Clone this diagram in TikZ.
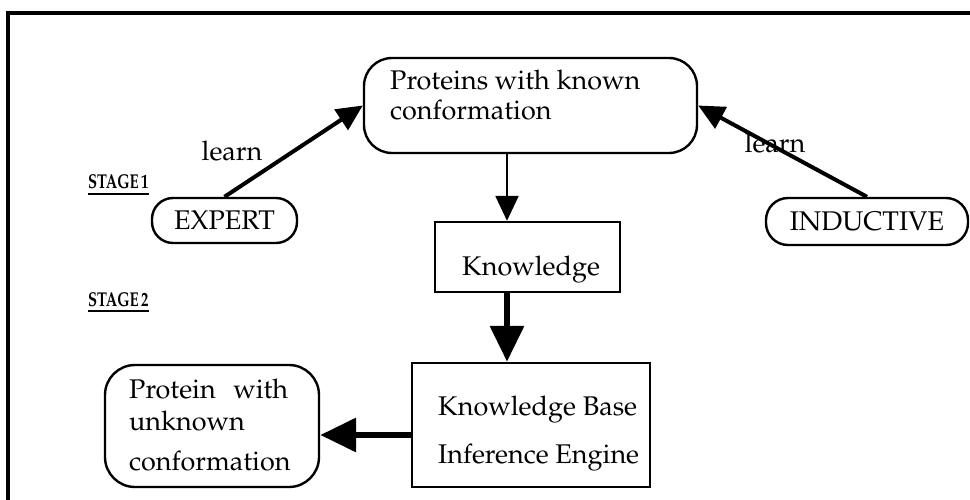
\documentclass[tikz,border=0pt]{standalone}
\usepackage[T1]{fontenc}
\usepackage{mathpazo}
\usepackage{graphicx}
\usetikzlibrary{arrows.meta,calc}
\newcommand{\stagetext}[1]{\scalebox{0.74}[1]{#1}}
\begin{document}
\begin{tikzpicture}[x=1pt,y=-1pt,line join=miter,
  txt/.style={font=\fontsize{27}{30}\selectfont, inner sep=0pt, align=left},
  rbox/.style={draw, line width=2.4pt, rounded corners=#1, inner sep=0pt,
    font=\fontsize{27}{30}\selectfont},
  sbox/.style={draw, line width=2.4pt, inner sep=0pt},
  stagelbl/.style={font=\fontsize{20}{24}\selectfont\bfseries, inner sep=0pt, anchor=base west},
  uline/.style={line width=1.8pt},
  learnarrow/.style={line width=4pt, -{Triangle[length=26pt,width=24pt]}},
  thinarrow/.style={line width=2.4pt, -{Triangle[length=25pt,width=23pt]}},
  thickarrow/.style={line width=6.5pt, -{Triangle[length=36pt,width=33pt]}},
  frame/.style={line width=4pt},
]
\useasboundingbox (0,0) rectangle (970,500);

% outer frame (top and left edges)
\coordinate (fb) at (8,503);
\coordinate (ft) at (8,13);
\coordinate (fr) at (975,13);
\draw[frame] (fb) -- (ft) -- (fr);

% stage 1
\node[rbox=28pt, minimum width=333pt, minimum height=95pt] (known) at (530.5,105.5) {};
\node[txt, anchor=base west] (knownT) at (390,120) {Proteins with known\\conformation};
\node[rbox=21pt, minimum width=145pt, minimum height=45pt] (expert) at (224.5,220.5) {EXPERT};
\node[rbox=22pt, minimum width=202pt, minimum height=47pt] (induct) at (867,221.5) {INDUCTIVE};
\node[sbox, minimum width=185pt, minimum height=70pt] (know) at (527.5,257) {};
\node[txt, anchor=base west] (knowT) at (462,275) {Knowledge};

% stage 2
\node[sbox, minimum width=238pt, minimum height=124pt] (kb) at (531,425) {};
\node[txt, anchor=base west] (kbT) at (438,463) {Knowledge Base\\[18pt]Inference Engine};
\node[rbox=30pt, minimum width=214pt, minimum height=122pt] (unk) at (212,426) {};
\node[txt, anchor=base west] (unkT) at (129,470) {Protein\hspace{0.4em} with\\[2pt]unknown\\[10pt]conformation};

% labels
\node[txt] (learnL) at (232,151) {learn};
\node[txt] (learnR) at (775,143) {learn};
\node[stagelbl] (st1) at (88,189) {\stagetext{STAGE\,1}};
\node[stagelbl] (st2) at (88,306) {\stagetext{STAGE\,2}};
\draw[uline] ($(st1.base west)+(0,5)$) -- ($(st1.base east)+(0,5)$);
\draw[uline] ($(st2.base west)+(0,5)$) -- ($(st2.base east)+(0,5)$);

% connectors
\coordinate (ax) at (507,0);
\coordinate (ay) at (0,435);
\draw[learnarrow] (expert.north) -- (known.west);
\draw[learnarrow] (induct.north) -- (known.east);
\draw[thinarrow] (known.south -| ax) -- (know.north -| ax);
\draw[thickarrow] (know.south -| ax) -- (kb.north -| ax);
\draw[thickarrow] (kb.west |- ay) -- (unk.east |- ay);
\end{tikzpicture}
\end{document}
